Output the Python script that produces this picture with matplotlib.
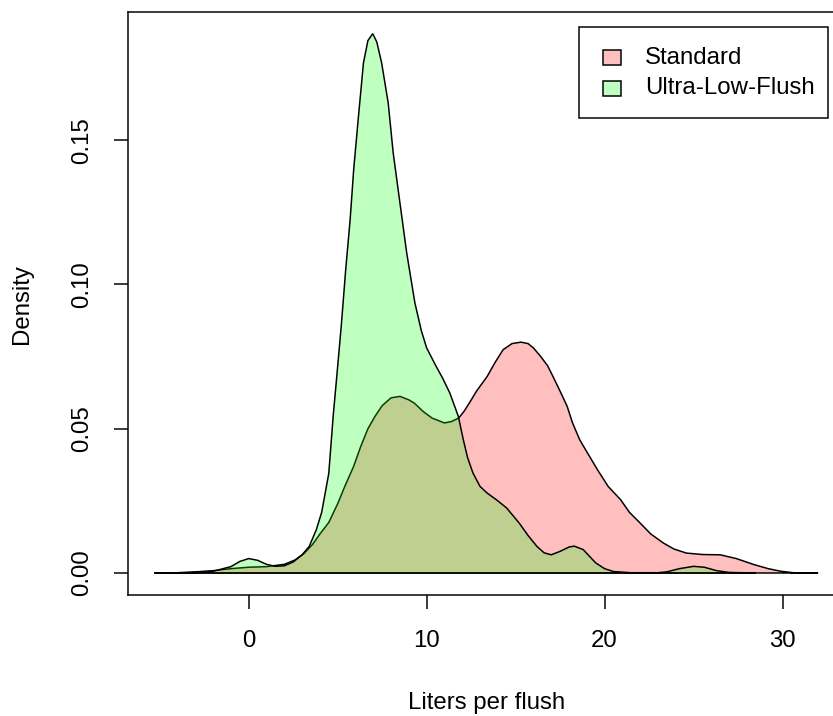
import numpy as np
import matplotlib
matplotlib.use("Agg")
import matplotlib.pyplot as plt
from matplotlib.patches import Rectangle

# density estimates (liters per flush)
std_x = [-5.3, -4.0, -3.0, -2.0, -1.0, 0.0, 1.0, 2.0, 2.6, 3.1, 3.6, 4.0, 4.5, 5.0, 5.4,
         5.9, 6.3, 6.7, 7.1, 7.5, 8.0, 8.5, 9.0, 9.3, 9.8, 10.3, 11.0, 11.4, 11.8, 12.1,
         12.4, 12.8, 13.4, 13.85, 14.3, 14.8, 15.3, 15.7, 16.0, 16.4, 16.8, 17.1, 17.5,
         17.9, 18.2, 18.6, 19.0, 19.6, 20.2, 20.9, 21.4, 22.0, 22.6, 23.3, 23.9, 24.6,
         25.5, 26.5, 27.4, 28.4, 29.2, 29.9, 30.6, 32.0]
std_y = [0.0, 0.0001, 0.0004, 0.0008, 0.0015, 0.0020, 0.0022, 0.0030, 0.0045, 0.0067,
         0.0100, 0.0135, 0.0175, 0.0240, 0.0300, 0.0370, 0.0439, 0.0500, 0.0543, 0.0580,
         0.0607, 0.0612, 0.0600, 0.0589, 0.0560, 0.0537, 0.0520, 0.0525, 0.0537, 0.0560,
         0.0589, 0.0630, 0.0681, 0.0730, 0.0774, 0.0795, 0.0800, 0.0795, 0.0780, 0.0751,
         0.0718, 0.0681, 0.0630, 0.0577, 0.0520, 0.0462, 0.0420, 0.0358, 0.0300, 0.0254,
         0.0210, 0.0173, 0.0135, 0.0104, 0.0083, 0.0069, 0.0064, 0.0063, 0.0050, 0.0029,
         0.0015, 0.0006, 0.0001, 0.0]

ulf_x = [-3.8, -3.0, -2.0, -1.0, -0.5, 0.0, 0.5, 1.0, 1.5, 2.0, 2.5, 3.0, 3.4, 3.8, 4.1,
         4.5, 4.75, 5.0, 5.2, 5.45, 5.7, 5.9, 6.15, 6.45, 6.7, 6.97, 7.2, 7.47, 7.84, 8.12,
         8.5, 8.88, 9.34, 9.7, 10.0, 10.5, 10.9, 11.3, 11.78, 12.06, 12.3, 12.6, 13.0,
         13.4, 14.0, 14.5, 15.2, 15.7, 16.2, 16.6, 17.0, 17.5, 18.0, 18.3, 18.8, 19.5,
         20.0, 20.5, 21.5, 23.0, 23.5, 24.2, 25.0, 25.6, 26.3, 27.0, 28.5]
ulf_y = [0.0, 0.0002, 0.0006, 0.0022, 0.0040, 0.0050, 0.0044, 0.0030, 0.0023, 0.0025,
         0.0038, 0.0063, 0.0092, 0.0150, 0.0210, 0.0345, 0.0545, 0.0716, 0.0855, 0.1050,
         0.1224, 0.1398, 0.1570, 0.1768, 0.1845, 0.1869, 0.1840, 0.1768, 0.1629, 0.1456,
         0.1282, 0.1109, 0.0936, 0.0840, 0.0780, 0.0720, 0.0675, 0.0624, 0.0543, 0.0462,
         0.0400, 0.0347, 0.0300, 0.0277, 0.0250, 0.0225, 0.0173, 0.0130, 0.0092, 0.0070,
         0.0063, 0.0075, 0.0090, 0.0093, 0.0081, 0.0035, 0.0015, 0.0005, 0.0001, 0.0001,
         0.0004, 0.0015, 0.0023, 0.0020, 0.0008, 0.0002, 0.0]

labels = ["Standard", "Ultra-Low-Flush"]
fills = [(1, 0, 0, 0.25), (0, 1, 0, 0.25)]
x_ticks = [0, 10, 20, 30]
y_ticks = [0.0, 0.05, 0.10, 0.15]

W, H, DPI = 833, 716, 144
plt.rcParams["font.family"] = ["Liberation Sans", "DejaVu Sans"]
plt.rcParams["font.size"] = 12

fig = plt.figure(figsize=(W / DPI, H / DPI), dpi=DPI)
# box runs past the right edge of the image, as in the reference
ax = fig.add_axes([127.7 / W, (H - 595.3) / H, (844.8 - 127.7) / W, 583.0 / H])

for xs, ys, col in [(std_x, std_y, fills[0]), (ulf_x, ulf_y, fills[1])]:
    ax.fill(xs, ys, facecolor=col, edgecolor="black", linewidth=0.75)

ax.set_xlim(-6.8, 33.5)
ax.set_ylim(-0.00773, 0.1943)

ax.set_xticks(x_ticks)
ax.set_yticks(y_ticks)
ax.set_yticklabels([f"{v:.2f}" for v in y_ticks])
ax.tick_params(direction="out", length=7.2, width=0.75, pad=10, labelsize=12)
plt.setp(ax.get_yticklabels(), rotation=90, va="center")
for sp in ax.spines.values():
    sp.set_linewidth(0.75)

ax.set_xlabel("Liters per flush", fontsize=12)
ax.set_ylabel("Density", fontsize=12)
ax.xaxis.set_label_coords(0.5, -0.166)
ax.yaxis.set_label_coords((33.3 - 127.7) / 717.1, 0.5)


# legend drawn by hand in pixel positions, R style
def px(x, y):
    return x / W, 1 - y / H


lx0, ly0 = px(579, 118.3)
lx1, ly1 = px(827.7, 26.7)
fig.add_artist(Rectangle((lx0, ly0), lx1 - lx0, ly1 - ly0, transform=fig.transFigure,
                         facecolor="white", edgecolor="black", linewidth=0.75))
for i, (lab, col) in enumerate(zip(labels, fills)):
    cy = 57.5 + i * 30.5
    sx, sy = px(603, cy + 7.5)
    fig.add_artist(Rectangle((sx, sy), 18 / W, 15 / H, transform=fig.transFigure,
                             facecolor=col, edgecolor="black", linewidth=0.75))
    tx, ty = px(645, cy)
    fig.text(tx, ty, lab, ha="left", va="center", fontsize=12)

fig.savefig("out.png", dpi=DPI)
